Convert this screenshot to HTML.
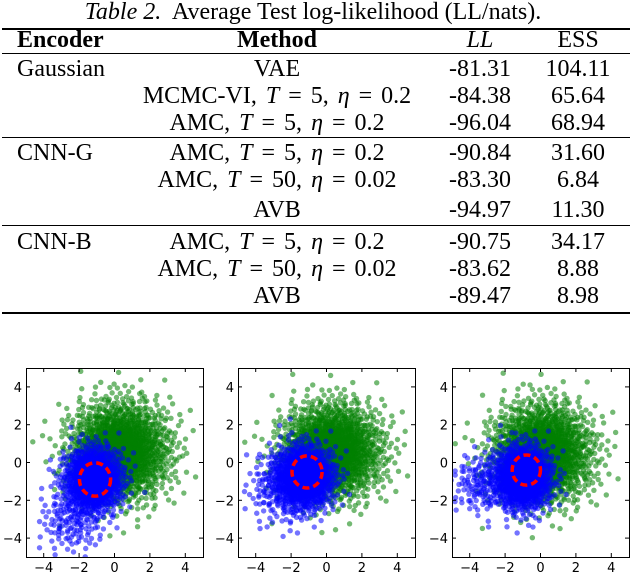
<!DOCTYPE html>
<html><head><meta charset="utf-8"><style>
body{margin:0;width:632px;height:574px;background:#fff;position:relative;overflow:hidden;font-family:"Liberation Serif",serif;color:#000}
.t{position:absolute;white-space:nowrap;font-size:24px;line-height:24px}
.c{transform:translateX(-50%)}
.m{word-spacing:3px}
.rule{position:absolute;left:2px;width:628px;background:#000}
i{font-style:italic}
svg{position:absolute;left:0;top:0}
</style></head><body>
<div class="t c" style="left:313px;top:0px;font-size:24px"><i>Table 2.</i>&nbsp; Average Test log-likelihood (LL/nats).</div>
<div class="rule" style="top:28px;height:2px"></div>
<div class="t" style="left:17px;top:28px;font-weight:bold">Encoder</div>
<div class="t c" style="left:277px;top:28px;font-weight:bold">Method</div>
<div class="t c" style="left:480px;top:28px"><i>LL</i></div>
<div class="t c" style="left:578px;top:28px">ESS</div>
<div class="rule" style="top:53px;height:1px"></div>
<div id="rows"></div>
<svg id="plots" width="632" height="574"></svg>
<script>
const encoders=["Gaussian","","","CNN-G","","","CNN-B","",""];
const methods=["VAE","MCMC-VI, <i>T</i> = 5, <i>η</i> = 0.2","AMC, <i>T</i> = 5, <i>η</i> = 0.2","AMC, <i>T</i> = 5, <i>η</i> = 0.2","AMC, <i>T</i> = 50, <i>η</i> = 0.02","AVB","AMC, <i>T</i> = 5, <i>η</i> = 0.2","AMC, <i>T</i> = 50, <i>η</i> = 0.02","AVB"];
const llVals=["-81.31","-84.38","-96.04","-90.84","-83.30","-94.97","-90.75","-83.62","-89.47"];
const essVals=["104.11","65.64","68.94","31.60","6.84","11.30","34.17","8.88","8.98"];
const rowTops=[57,84,111,141,168,198,230,257,284];
const ruleTops=[137,225,312];
const rows=document.getElementById('rows');
for(let i=0;i<methods.length;i++){
  const mk=(html,left,cls,name)=>{const d=document.createElement('div');d.className='t'+cls;d.style.left=left+'px';d.style.top=rowTops[i]+'px';d.innerHTML=html;
    
    
    rows.appendChild(d);};
  if(encoders[i])mk(encoders[i],17,'','encoder-cell');
  mk(methods[i],277,' c m','method-cell');
  mk(llVals[i],480,' c','ll-cell');
  mk(essVals[i],578,' c','ess-cell');
}
ruleTops.forEach((t,k)=>{const d=document.createElement('div');d.className='rule';d.style.top=t+'px';d.style.height=(k==2?2:1)+'px';
  
  
  rows.appendChild(d);});
</script>
<script>
// scatter cluster parameters per panel: [cx, cy, sx, sy, count]
const greenClusters=[[0.3,0.6,1.4,1.3,1700],[0.3,0.6,1.4,1.25,1700],[0.1,0.5,1.4,1.3,1700]];
const blueClusters=[[-1.2,-0.9,0.8,0.85,1100],[-1.3,-0.8,0.85,0.85,1100],[-1.0,-0.8,0.8,0.85,1100]];
const blueTails=[[-2.4,-3.0,0.9,0.9,150],[-2.8,-1.4,0.9,1.0,130],[-3.3,-1.1,0.9,0.8,150]];
const circles=[[-1.1,-0.9,0.88],[-1.1,-0.5,0.85],[-0.8,-0.4,0.8]];
const xTicks=[-4,-2,0,2,4];
const yTicks=[4,2,0,-2,-4];
const panelLeft=[26,238,452],panelW=177,plotTop=368,plotH=189;
const svg=document.getElementById('plots');const NS='http://www.w3.org/2000/svg';
function halton(i,b){let f=1,r=0;while(i>0){f/=b;r+=f*(i%b);i=Math.floor(i/b);}return r;}
function el(t,a){const e=document.createElementNS(NS,t);for(const k in a)e.setAttribute(k,a[k]);return e;}
panelLeft.forEach((L,p)=>{
  const sx=v=>L+(v+5)/10*panelW, sy=v=>plotTop+(5-v)/10*plotH;
  const g=el('g',{'clip-path':'url(#cp'+p+')'});
  
  
  const cp=el('clipPath',{id:'cp'+p});cp.appendChild(el('rect',{x:L,y:plotTop,width:panelW,height:plotH}));svg.appendChild(cp);
  const draw=(c,col,off,op)=>{for(let i=1;i<=c[4];i++){const u=halton(i+off,2)||0.5,v=halton(i+off,3);
      const r=Math.sqrt(-2*Math.log(Math.max(u,1e-4))),a=2*Math.PI*v;
      const dot=el('circle',{cx:sx(c[0]+c[2]*r*Math.cos(a)),cy:sy(c[1]+c[3]*r*Math.sin(a)),r:2.7,fill:col,'fill-opacity':op});
      
      
      g.appendChild(dot);}};
  draw(greenClusters[p],'#008000',p*97+11,0.55);
  draw(blueClusters[p],'#0000ff',p*131+500,0.55);
  draw(blueTails[p],'#0000ff',p*53+3000,0.55);
  const c=circles[p];
  const circ=el('ellipse',{cx:sx(c[0]),cy:sy(c[1]),rx:c[2]*panelW/10,ry:c[2]*plotH/10,fill:'none',stroke:'#ff0000','stroke-width':3.5,'stroke-dasharray':'7,4'});
  
  
  g.appendChild(circ);
  svg.appendChild(g);
  const fr=el('rect',{x:L+0.5,y:plotTop+0.5,width:panelW,height:plotH,fill:'none',stroke:'#000','stroke-width':1});
  
  
  svg.appendChild(fr);
  xTicks.forEach(t=>{const x=sx(t);
    svg.appendChild(el('line',{x1:x,x2:x,y1:plotTop+plotH,y2:plotTop+plotH-4,stroke:'#000'}));
    svg.appendChild(el('line',{x1:x,x2:x,y1:plotTop,y2:plotTop+4,stroke:'#000'}));
    const tx=el('text',{x:x,y:572,'text-anchor':'middle','font-family':'DejaVu Sans, sans-serif','font-size':13});tx.textContent=(t<0?'\u2212':'')+Math.abs(t);
    
    
    svg.appendChild(tx);});
  yTicks.forEach(t=>{const y=sy(t);
    svg.appendChild(el('line',{x1:L,x2:L+4,y1:y,y2:y,stroke:'#000'}));
    svg.appendChild(el('line',{x1:L+panelW,x2:L+panelW-4,y1:y,y2:y,stroke:'#000'}));
    const tx=el('text',{x:L-4,y:y+5,'text-anchor':'end','font-family':'DejaVu Sans, sans-serif','font-size':13});tx.textContent=(t<0?'\u2212':'')+Math.abs(t);
    
    
    svg.appendChild(tx);});
});
</script>
</body></html>
